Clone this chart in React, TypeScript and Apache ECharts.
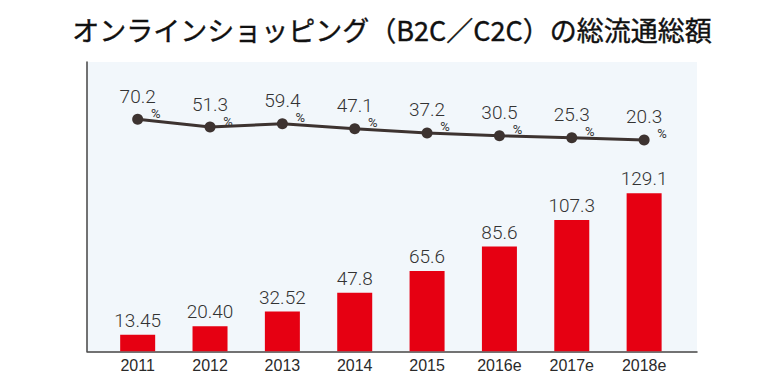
import React, { useEffect, useRef } from "react";
import * as echarts from "echarts";

const titleText = "オンラインショッピング（B2C／C2C）の総流通総額";
const years = ["2011", "2012", "2013", "2014", "2015", "2016e", "2017e", "2018e"];
const gmvLabels = ["13.45", "20.40", "32.52", "47.8", "65.6", "85.6", "107.3", "129.1"];
const growthRates = [70.2, 51.3, 59.4, 47.1, 37.2, 30.5, 25.3, 20.3];
const percentSign = "%";

export default function App() {
  const ref = useRef<HTMLDivElement>(null);
  useEffect(() => {
    if (!ref.current) return;
    const chart = echarts.init(ref.current, null, { renderer: "svg" });
    const numFont = "Roboto, 'Liberation Sans', sans-serif";
    chart.setOption({
      animation: false,
      backgroundColor: "#ffffff",
      title: {
        text: titleText,
        left: "center",
        top: 11,
        textStyle: {
          fontFamily: "'Noto Sans CJK JP', sans-serif",
          fontSize: 27,
          fontWeight: "normal",
          color: "#111111",
          textBorderColor: "#111111",
          textBorderWidth: 0.4,
        },
      },
      grid: [
        { left: 101.5, right: 103.7, top: 62, bottom: 32.7, containLabel: false },
        {
          left: 87, right: 87, top: 62, bottom: 32.7, show: true,
          backgroundColor: "#f2f7fb", borderWidth: 0, z: 0,
        },
      ],
      xAxis: [
        {
          type: "category", gridIndex: 0, data: years,
          axisLine: { show: false }, axisTick: { show: false },
          axisLabel: {
            margin: 6, fontFamily: "'Liberation Sans', Arial, sans-serif",
            fontSize: 16, color: "#2a2a2a",
          },
        },
        {
          type: "value", gridIndex: 1, min: 0, max: 1, position: "bottom",
          axisLine: { show: true, onZero: false, lineStyle: { color: "#444444", width: 1.5 } },
          axisTick: { show: false }, axisLabel: { show: false }, splitLine: { show: false },
        },
      ],
      yAxis: [
        { type: "value", gridIndex: 0, min: 0, max: 236.4, show: false },
        { type: "value", gridIndex: 0, min: -489, max: 208, show: false },
        {
          type: "value", gridIndex: 1, min: 0, max: 1, position: "left",
          axisLine: { show: true, onZero: false, lineStyle: { color: "#444444", width: 1.5 } },
          axisTick: { show: false }, axisLabel: { show: false }, splitLine: { show: false },
        },
      ],
      series: [
        {
          type: "bar", xAxisIndex: 0, yAxisIndex: 0,
          data: gmvLabels.map(Number), barWidth: 35,
          itemStyle: { color: "#e60012" },
          label: {
            show: true, position: "top", distance: 5,
            formatter: (p: any) => gmvLabels[p.dataIndex],
            fontFamily: numFont, fontWeight: 300, fontSize: 19, color: "#333333",
          },
        },
        {
          type: "line", xAxisIndex: 0, yAxisIndex: 1, data: growthRates,
          symbol: "circle", symbolSize: 11,
          itemStyle: { color: "#3d3330" },
          lineStyle: { color: "#3d3330", width: 3 },
          label: {
            show: true, position: "inside", offset: [0, -23],
            formatter: (p: any) => p.value.toFixed(1),
            fontFamily: numFont, fontWeight: 300, fontSize: 19, color: "#333333",
          },
          z: 3,
        },
        {
          type: "line", xAxisIndex: 0, yAxisIndex: 1, data: growthRates,
          symbol: "circle", symbolSize: 1,
          itemStyle: { color: "rgba(0,0,0,0)" },
          lineStyle: { width: 0, opacity: 0 },
          label: {
            show: true, position: "inside", offset: [18, -6],
            formatter: () => percentSign,
            fontFamily: numFont, fontWeight: 400, fontSize: 13, color: "#333333",
          },
          silent: true,
          z: 4,
        },
      ],
    });
    return () => chart.dispose();
  }, []);
  return (
    <div
      ref={ref}
      style={{ position: "fixed", left: 0, top: 0, width: 784, height: 384 }}
    />
  );
}
